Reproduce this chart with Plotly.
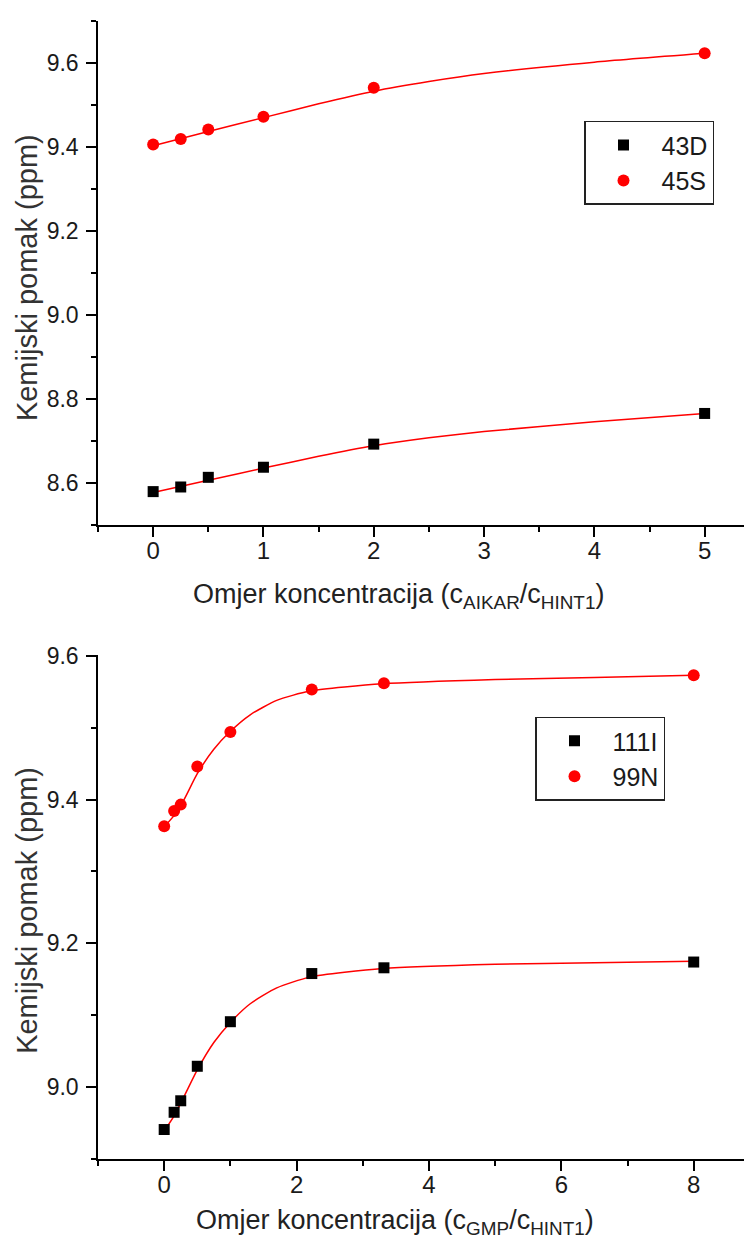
import plotly.graph_objects as go

# ---- data: top panel (AIKAR titration) ----
aikar_ratio = [0, 0.25, 0.5, 1, 2, 5]
shift_43D = [8.580, 8.591, 8.614, 8.638, 8.693, 8.766]
shift_45S = [9.406, 9.419, 9.442, 9.472, 9.541, 9.623]
# fitted curves
fit_x_aikar = [0, 0.5, 1, 1.5, 2, 2.5, 3, 4, 5]
fit_43D = [8.578, 8.607, 8.636, 8.664, 8.689, 8.708, 8.723, 8.746, 8.766]
fit_45S = [9.403, 9.437, 9.470, 9.503, 9.533, 9.556, 9.575, 9.602, 9.623]

# ---- data: bottom panel (GMP titration) ----
gmp_ratio = [0, 0.15, 0.25, 0.5, 1.0, 2.23, 3.32, 8.0]
shift_111I = [8.941, 8.965, 8.981, 9.029, 9.091, 9.158, 9.166, 9.174]
shift_99N = [9.363, 9.384, 9.393, 9.446, 9.494, 9.553, 9.562, 9.573]
fit_x_gmp = [0, 0.15, 0.3, 0.5, 0.75, 1.0, 1.3, 1.7, 2.2, 3.3, 5, 6.5, 8]
fit_111I = [8.939, 8.960, 8.987, 9.024, 9.062, 9.090, 9.116, 9.138, 9.153, 9.165, 9.171, 9.173, 9.175]
fit_99N = [9.362, 9.378, 9.400, 9.436, 9.470, 9.495, 9.518, 9.538, 9.551, 9.561, 9.567, 9.570, 9.573]

top_names = ["43D", "45S"]
bottom_names = ["111I", "99N"]

RED = "#ff0000"
FONT = "Liberation Sans, Arial, sans-serif"

# page body has an 8px margin: build the figure in reference pixels shifted by 8
OFF = 8
W, H = 752 - OFF, 1239 - OFF
L, T = 98 - OFF, 17 - OFF
BOT_REF = 1159  # reference pixel of the lower x axis
B = H + OFF - BOT_REF
PW = W - L
PH = H - T - B


def py(r):
    return (BOT_REF - r) / PH


def px(r):
    return (r - 98) / PW


fig = go.Figure()


def add_panel(x, ys, fx, fits, names, xa, ya, legend):
    for fy in fits:
        fig.add_trace(go.Scatter(x=fx, y=fy, mode="lines", xaxis=xa, yaxis=ya,
                                 line=dict(color=RED, width=1.5, shape="spline", smoothing=0.6),
                                 showlegend=False, hoverinfo="skip"))
    fig.add_trace(go.Scatter(x=x, y=ys[0], mode="markers", name=names[0], xaxis=xa, yaxis=ya,
                             marker=dict(symbol="square", size=11, color="black"), legend=legend))
    fig.add_trace(go.Scatter(x=x, y=ys[1], mode="markers", name=names[1], xaxis=xa, yaxis=ya,
                             marker=dict(symbol="circle", size=12, color=RED), legend=legend))


add_panel(aikar_ratio, [shift_43D, shift_45S], fit_x_aikar, [fit_43D, fit_45S],
          top_names, "x", "y", "legend")
add_panel(gmp_ratio, [shift_111I, shift_99N], fit_x_gmp, [fit_111I, fit_99N],
          bottom_names, "x2", "y2", "legend2")


def axis(**kw):
    d = dict(showline=True, linecolor="black", linewidth=1.5, ticks="outside", ticklen=10,
             tickwidth=1.5, tickcolor="black", showgrid=False, zeroline=False, mirror=False,
             ticklabelstandoff=-7,
             tickfont=dict(family=FONT, size=24, color="#1a1a1a"))
    d.update(kw)
    return d


def minor(dt):
    return dict(ticks="outside", ticklen=5, tickwidth=1.5, tickcolor="black", dtick=dt, showgrid=False)


yfont = dict(family=FONT, size=23, color="#1a1a1a")
legfont = dict(family=FONT, size=25, color="#1a1a1a")

fig.update_layout(
    width=W, height=H,
    margin=dict(l=L, r=0, t=T, b=B, pad=0),
    paper_bgcolor="white", plot_bgcolor="white",
    xaxis=axis(domain=[0, 1], anchor="y", range=[-0.5, -0.5 + PW / 110.3], tick0=0, dtick=1,
               minor=minor(0.5)),
    yaxis=axis(domain=[py(523), 1], anchor="x", range=[8.5, 9.7], tick0=8.6, dtick=0.2,
               tickformat=".1f", minor=minor(0.1), tickfont=yfont, ticklabelstandoff=3),
    xaxis2=axis(domain=[0, 1], anchor="y2", range=[-1, -1 + PW / 66.19], tick0=0, dtick=2,
                minor=minor(1)),
    yaxis2=axis(domain=[0, py(653.7)], anchor="x2", range=[8.9, 9.6005], tick0=9.0, dtick=0.2,
                tickformat=".1f", minor=minor(0.1), tickfont=yfont, ticklabelstandoff=3),
    legend=dict(x=px(584), y=py(117), xanchor="left", yanchor="top",
                bordercolor="#222", borderwidth=1.5, bgcolor="white",
                itemwidth=66, entrywidth=74, font=legfont),
    legend2=dict(x=px(535), y=py(715), xanchor="left", yanchor="top",
                 bordercolor="#222", borderwidth=1.5, bgcolor="white",
                 itemwidth=66, entrywidth=80, font=legfont),
    showlegend=True,
)

ytitle = "Kemijski pomak (ppm)"
for yc in (275, 910):
    fig.add_annotation(text=ytitle, textangle=-90, xref="paper", yref="paper",
                       x=px(27), y=py(yc), xanchor="center", yanchor="middle",
                       showarrow=False, font=dict(family=FONT, size=29, color="#333"))

fig.add_annotation(text="Omjer koncentracija (c<sub>AIKAR</sub>/c<sub>HINT1</sub>)",
                   xref="paper", yref="paper", x=px(398), y=py(594),
                   xanchor="center", yanchor="middle", showarrow=False,
                   font=dict(family=FONT, size=27, color="#222"))
fig.add_annotation(text="Omjer koncentracija (c<sub>GMP</sub>/c<sub>HINT1</sub>)",
                   xref="paper", yref="paper", x=px(395), y=py(1222),
                   xanchor="center", yanchor="middle", showarrow=False,
                   font=dict(family=FONT, size=27, color="#222"))

fig.write_html("out.html")
